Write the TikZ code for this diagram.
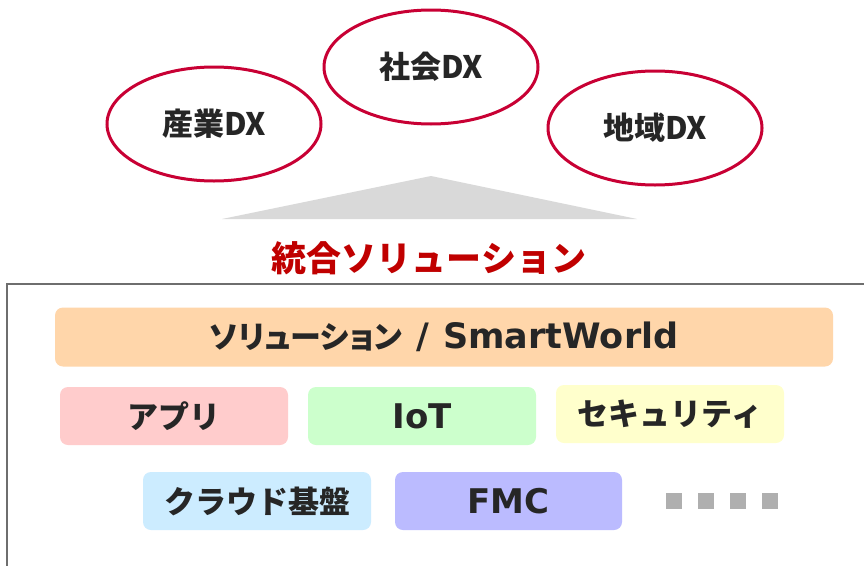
\documentclass[tikz,border=0pt]{standalone}
\usepackage{fontspec}
\newfontfamily\jp{Noto Sans CJK JP}
\newfontfamily\jpp{Noto Sans CJK JP}[RawFeature=+palt]
\newfontfamily\dv{DejaVu Sans}
\usetikzlibrary{shapes.geometric}
\definecolor{dxred}{RGB}{200,0,52}
\definecolor{titred}{RGB}{192,0,0}
\definecolor{txt}{RGB}{38,38,38}
\definecolor{tri}{RGB}{217,217,217}
\definecolor{frame}{RGB}{110,110,110}
\definecolor{cOrange}{RGB}{255,214,170}
\definecolor{cPink}{RGB}{255,204,204}
\definecolor{cGreen}{RGB}{204,255,204}
\definecolor{cYellow}{RGB}{255,255,204}
\definecolor{cBlue}{RGB}{204,236,255}
\definecolor{cLav}{RGB}{187,187,255}
\definecolor{sq}{RGB}{175,175,175}
\newcommand\latn{\dv\bfseries\fontsize{34}{38}\selectfont}
\tikzset{
  dx/.style={ellipse, draw=dxred, line width=3pt, minimum width=214pt, minimum height=114pt, inner sep=0pt,
    text=txt, font=\jp\bfseries\fontsize{31}{34}\selectfont},
  box/.style={rounded corners=8pt, minimum height=58pt, minimum width=228pt, inner sep=0pt,
    text=txt, font=\jp\bfseries\fontsize{31}{36}\selectfont},
  dot/.style={fill=sq, minimum size=16pt, inner sep=0pt}
}
\begin{document}
\begin{tikzpicture}[x=1pt,y=-1pt]
\useasboundingbox (0,0) rectangle (864,565);
\fill[white] (0,0) rectangle (864,565);
% triangle
\fill[tri] (431,176) -- (637,219) -- (222,219) -- cycle;
% ellipses
\node[dx] (sangyo) at (214,124) {産業DX};
\node[dx] (shakai) at (431,67) {社会DX};
\node[dx] (chiiki) at (655,128) {地域DX};
% title
\node[text=titred, font=\jp\bfseries\fontsize{35}{38}\selectfont] (title) at (429,258) {統合ソリューション};
% frame
\draw[frame, line width=2pt] (7,600) -- (7,284) -- (900,284);
% boxes
\node[box, fill=cOrange, minimum width=778pt, minimum height=59pt] (sol) at (444,337) {{\jpp\bfseries\fontsize{31}{34}\selectfont ソリューション}{\dv\bfseries\fontsize{35}{38}\selectfont\hspace{14pt}/\hspace{14pt}SmartWorld}};
\node[box, fill=cPink] (app) at (174,416) {アプリ};
\node[box, fill=cGreen] (iot) at (422,416) {\latn IoT};
\node[box, fill=cYellow] (sec) at (670,414) {セキュリティ};
\node[box, fill=cBlue] (cloud) at (257,501) {クラウド基盤};
\node[box, fill=cLav, minimum width=227pt] (fmc) at (508.5,501) {\latn FMC};
\node[dot] (d1) at (674,501) {};
\node[dot] (d2) at (706,501) {};
\node[dot] (d3) at (738,501) {};
\node[dot] (d4) at (770,501) {};
\end{tikzpicture}
\end{document}
